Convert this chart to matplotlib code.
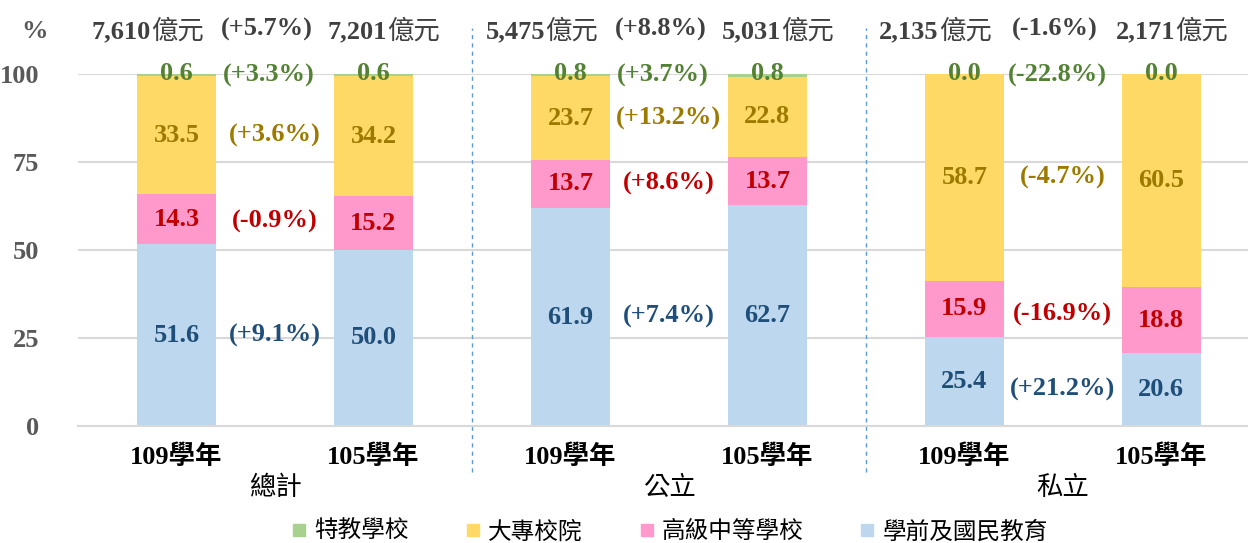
import matplotlib
matplotlib.use('Agg')
import matplotlib.pyplot as plt
import numpy as np
from matplotlib.lines import Line2D

plt.rcParams['font.family'] = ['Liberation Serif', 'Noto Sans CJK TC']

# data
years = ['109學年', '105學年', '109學年', '105學年', '109學年', '105學年']
groups = ['總計', '公立', '私立']
series_names = ['學前及國民教育', '高級中等學校', '大專校院', '特教學校']
preschool = [51.6, 50.0, 61.9, 62.7, 25.4, 20.6]
senior_high = [14.3, 15.2, 13.7, 13.7, 15.9, 18.8]
college = [33.5, 34.2, 23.7, 22.8, 58.7, 60.5]
special = [0.6, 0.6, 0.8, 0.8, 0.0, 0.0]
totals = ['7,610', '7,201', '5,475', '5,031', '2,135', '2,171']
total_unit = '億元'
total_change = ['(+5.7%)', '(+8.8%)', '(-1.6%)']
preschool_change = ['(+9.1%)', '(+7.4%)', '(+21.2%)']
senior_change = ['(-0.9%)', '(+8.6%)', '(-16.9%)']
college_change = ['(+3.6%)', '(+13.2%)', '(-4.7%)']
special_change = ['(+3.3%)', '(+3.7%)', '(-22.8%)']

# label heights for the change notes (layout)
preschool_change_y = [25.6, 31.2, 10.5]
senior_change_y = [58, 69, 31.8]
college_change_y = [82.4, 87.5, 70.5]
# where number and unit of the totals meet, relative to each bar (layout)
total_split = [-0.13, 0.07] * 3

fill_colors = ['#BDD7EE', '#FF99CC', '#FFD966', '#A9D18E']
text_colors = ['#1F4E79', '#C00000', '#9C7A00', '#548235']
fs = 19

fig = plt.figure(figsize=(12.48, 5.43), dpi=100)
ax = fig.add_axes([78 / 1248, 1 - 426 / 543, 1 - 78 / 1248, (426 - 74) / 543])

x = np.arange(len(years))
w = 0.4
series = [preschool, senior_high, college, special]
bottom = np.zeros(len(years))
for vals, fc, tc in zip(series, fill_colors, text_colors):
    vals = np.array(vals)
    ax.bar(x, vals, w, bottom=bottom, color=fc, zorder=2)
    for xi, b, v in zip(x, bottom, vals):
        yy = b + v / 2 if v > 3 else 100
        ax.text(xi, yy, f'{v:.1f}', ha='center', va='center', fontsize=fs,
                fontweight='bold', color=tc, zorder=3)
    bottom += vals

# change notes between bars of each group
mids = [0.5, 2.5, 4.5]
for g, mx in enumerate(mids):
    ax.text(mx - 0.03, 99.5, special_change[g], ha='center', va='center', fontsize=fs,
            fontweight='bold', color=text_colors[3])
    ax.text(mx, college_change_y[g], college_change[g], ha='center', va='center',
            fontsize=fs, fontweight='bold', color=text_colors[2])
    ax.text(mx, senior_change_y[g], senior_change[g], ha='center', va='center',
            fontsize=fs, fontweight='bold', color=text_colors[1])
    ax.text(mx, preschool_change_y[g], preschool_change[g], ha='center', va='center',
            fontsize=fs, fontweight='bold', color=text_colors[0])
    ax.text(mx - 0.04, 112.6, total_change[g], ha='center', va='center', fontsize=fs,
            fontweight='bold', color='#404040', clip_on=False)
    ax.text(mx, -17.5, groups[g], ha='center', va='center', fontsize=fs,
            color='black', clip_on=False)

# totals: bold number, regular unit
for xi, t, sp in zip(x, totals, total_split):
    ax.text(xi + sp, 112, t, ha='right', va='center', fontsize=fs,
            fontweight='bold', color='#404040', clip_on=False)
    ax.text(xi + sp, 112, total_unit, ha='left', va='center', fontsize=fs,
            color='#404040', clip_on=False)

# dividers
for dx in [1.5, 3.5]:
    ax.plot([dx, dx], [-13, 113], ls=(0, (3, 3)), lw=1, color='#5B9BD5',
            clip_on=False, zorder=1)

ax.set_xlim(-0.5, 5.44)
ax.set_ylim(0, 100)
ax.set_yticks([0, 25, 50, 75, 100])
ax.set_yticklabels(['0', '25', '50', '75', '100'], fontsize=fs, fontweight='bold',
                   color='#595959')
ax.set_xticks(x)
ax.set_xticklabels(years, fontsize=fs, fontweight='bold', color='black')
ax.tick_params(axis='both', length=0)
ax.tick_params(axis='y', pad=28)
ax.tick_params(axis='x', pad=13)
ax.grid(axis='y', color='#D9D9D9', lw=1.5, zorder=0)
ax.set_axisbelow(True)
for s in ['top', 'right', 'left']:
    ax.spines[s].set_visible(False)
ax.spines['bottom'].set_color('#D9D9D9')
ax.spines['bottom'].set_linewidth(1.5)
ax.text(-0.72, 112, '%', ha='center', va='center', fontsize=fs, fontweight='bold',
        color='#595959', clip_on=False)

handles = [Line2D([], [], marker='s', ls='', markersize=8.5, color=fill_colors[i])
           for i in [3, 2, 1, 0]]
labels = [series_names[i] for i in [3, 2, 1, 0]]
fig.legend(handles, labels, loc='center', bbox_to_anchor=(0.537, 0.02), ncol=4,
           frameon=False, fontsize=17, handlelength=0.6, handletextpad=0.35,
           columnspacing=2.4, borderpad=0)

fig.savefig('out.png', dpi=100)
plt.close()
